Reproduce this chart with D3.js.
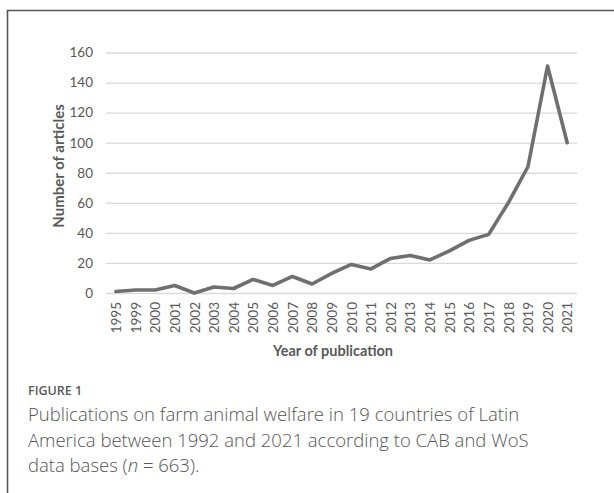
<!DOCTYPE html>
<html>
<head>
<meta charset="utf-8">
<script src="https://cdn.jsdelivr.net/npm/d3@7"></script>
<style>
  html, body { margin: 0; padding: 0; background: #fff; }
  svg { display: block; }
</style>
</head>
<body>
<svg id="chart" width="614" height="493"></svg>
<script>
// Publication years (1996-1998 have no records and are not listed)
const years = ["1995", "1999", "2000", "2001", "2002", "2003", "2004", "2005",
  "2006", "2007", "2008", "2009", "2010", "2011", "2012", "2013", "2014",
  "2015", "2016", "2017", "2018", "2019", "2020", "2021"];
// Number of articles per year (total 663)
const articles = [1, 2, 2, 5, 0, 4, 3, 9, 5, 11, 6, 13, 19, 16, 23, 25, 22,
  28, 35, 39, 60, 84, 151, 100];
const yTicks = [0, 20, 40, 60, 80, 100, 120, 140, 160];
const captionLabel = "FIGURE 1";
const captionLines = [
  "Publications on farm animal welfare in 19 countries of Latin",
  "America between 1992 and 2021 according to CAB and WoS",
  ["data bases (", "n", " = 663)."]
];

const svg = d3.select("#chart");
const chartFont = "Lato, 'Noto Sans', sans-serif";

// frame around the figure (top and left edges)
svg.append("path")
  .attr("d", "M7.5,493 V10.5 H614")
  .attr("fill", "none")
  .attr("stroke", "#555")
  .attr("stroke-width", 1.6);

const plot = { left: 106, right: 577, top: 52.5, bottom: 293 };

const x = d3.scalePoint()
  .domain(years)
  .range([plot.left, plot.right])
  .padding(0.5);

const y = d3.scaleLinear()
  .domain([0, 160])
  .range([plot.bottom, plot.top]);

// horizontal gridlines with value labels
const yAxis = d3.axisLeft(y)
  .tickValues(yTicks)
  .tickSize(-(plot.right - plot.left))
  .tickPadding(13);

const gy = svg.append("g")
  .attr("transform", `translate(${plot.left},0)`)
  .call(yAxis);
gy.select(".domain").remove();
gy.selectAll(".tick line")
  .attr("stroke", "#d9d9d9")
  .attr("stroke-width", 1.3);
gy.selectAll(".tick text")
  .attr("fill", "#595959")
  .style("font-family", chartFont)
  .style("font-size", "13.5px");

// year labels, rotated
const xAxis = d3.axisBottom(x).tickSize(0).tickPadding(0);
const gx = svg.append("g")
  .attr("transform", `translate(0,${plot.bottom})`)
  .call(xAxis);
gx.select(".domain").remove();
gx.selectAll(".tick text")
  .attr("transform", "rotate(-90)")
  .attr("x", -9)
  .attr("y", 0)
  .attr("dy", "0.35em")
  .attr("text-anchor", "end")
  .attr("fill", "#595959")
  .style("font-family", chartFont)
  .style("font-size", "13.5px");

// the series line
const line = d3.line()
  .x((d, i) => x(years[i]))
  .y(d => y(d));

svg.append("path")
  .datum(articles)
  .attr("d", line)
  .attr("fill", "none")
  .attr("stroke", "#6f6f6f")
  .attr("stroke-width", 3.6)
  .attr("stroke-linejoin", "round")
  .attr("stroke-linecap", "round");

// axis titles
svg.append("text")
  .attr("x", 333)
  .attr("y", 356)
  .attr("text-anchor", "middle")
  .attr("fill", "#595959")
  .style("font-family", chartFont)
  .style("font-weight", "bold")
  .style("font-size", "14.5px")
  .text("Year of publication");

svg.append("text")
  .attr("transform", "translate(64,166) rotate(-90)")
  .attr("text-anchor", "middle")
  .attr("fill", "#595959")
  .style("font-family", chartFont)
  .style("font-weight", "bold")
  .style("font-size", "15px")
  .text("Number of articles");

// caption
const captionFont = "'Open Sans', 'Noto Sans', sans-serif";
svg.append("text")
  .attr("x", 28)
  .attr("y", 395)
  .attr("fill", "#5a5a5a")
  .style("font-family", captionFont)
  .style("font-weight", 600)
  .style("font-size", "12.5px")
  .text(captionLabel);

const cap = svg.append("text")
  .attr("fill", "#555")
  .style("font-family", captionFont)
  .style("font-weight", 300)
  .style("font-size", "18.5px");

captionLines.forEach((ln, i) => {
  const t = cap.append("tspan")
    .attr("x", 28)
    .attr("y", 421 + i * 25.5);
  if (Array.isArray(ln)) {
    t.text(ln[0]);
    cap.append("tspan").style("font-style", "italic").text(ln[1]);
    cap.append("tspan").text(ln[2]);
  } else {
    t.text(ln);
  }
});
</script>
</body>
</html>
